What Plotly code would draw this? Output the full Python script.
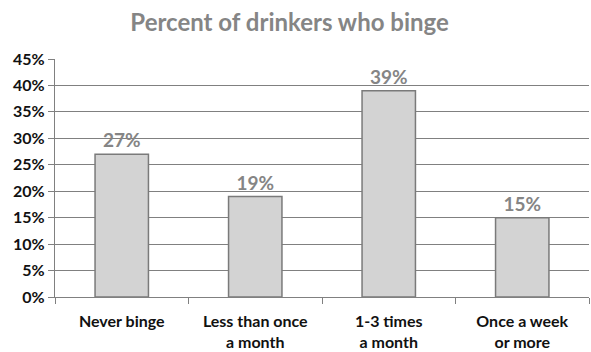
import plotly.graph_objects as go

categories = ["Never binge", "Less than once<br>a month", "1-3 times<br>a month", "Once a week<br>or more"]
percent = [27, 19, 39, 15]
y_ticks = [0, 5, 10, 15, 20, 25, 30, 35, 40, 45]
y_tick_labels = [f"{t}%" for t in y_ticks]

fig = go.Figure(
    go.Bar(
        x=categories,
        y=percent,
        width=0.4,
        marker=dict(color="#d3d3d3", line=dict(color="#7a7a7a", width=1.5)),
        text=[f"<b>{v}%</b>" for v in percent],
        textposition="outside",
        textfont=dict(family="Lato", size=19, color="#858585"),
        cliponaxis=False,
    )
)

fig.update_layout(
    width=591,
    height=352,
    margin=dict(l=55, r=2, t=59, b=55),
    paper_bgcolor="white",
    plot_bgcolor="white",
    showlegend=False,
    bargap=0.6,
    title=dict(
        text="<b>Percent of drinkers who binge</b>",
        x=0.49,
        xanchor="center",
        y=0.935,
        yanchor="middle",
        font=dict(family="Lato", size=24, color="#858585"),
    ),
)

fig.update_yaxes(
    range=[0, 45],
    tickmode="array",
    tickvals=y_ticks,
    ticktext=y_tick_labels,
    showgrid=True,
    gridcolor="#808080",
    gridwidth=1.3,
    showline=True,
    linecolor="#808080",
    linewidth=1.3,
    ticks="outside",
    ticklen=6,
    tickcolor="#808080",
    tickfont=dict(family="Lato", size=16, color="#111111", weight="bold"),
    zeroline=False,
)

fig.update_xaxes(
    showline=True,
    linecolor="#808080",
    linewidth=1.3,
    ticks="outside",
    tickson="boundaries",
    ticklen=6,
    tickcolor="#808080",
    ticklabelstandoff=10,
    tickfont=dict(family="Lato", size=16, color="#111111", weight="bold"),
)

fig.write_html("out.html")
